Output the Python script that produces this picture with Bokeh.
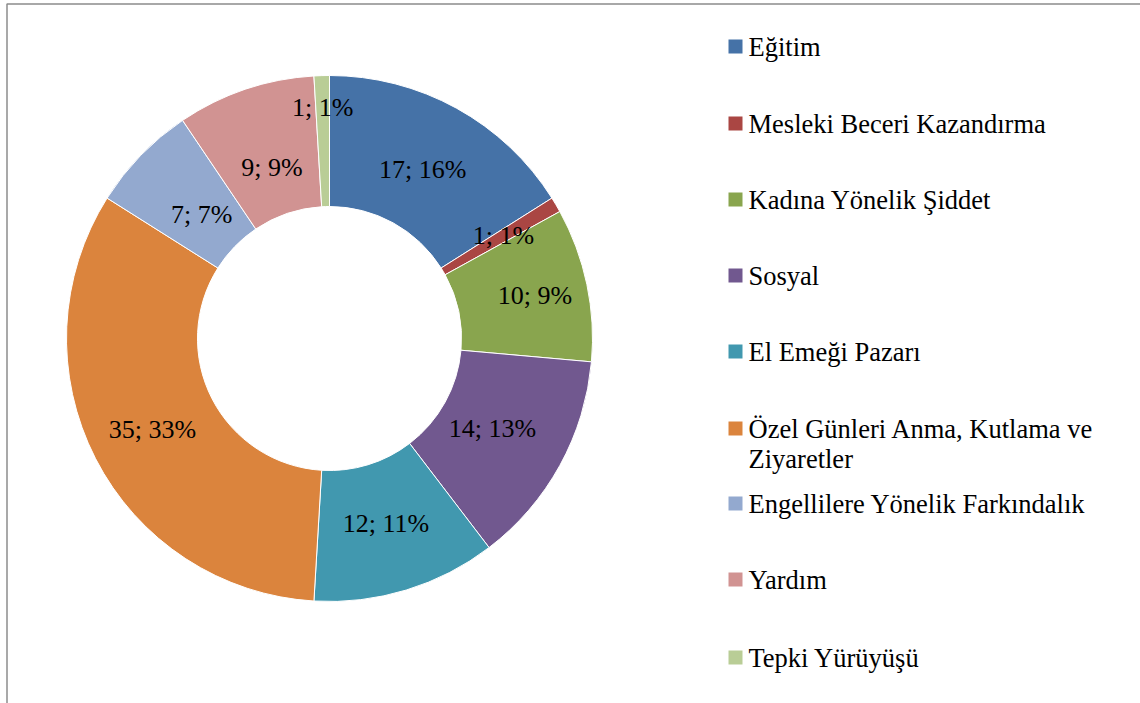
import math
from bokeh.plotting import figure
from bokeh.models import Range1d, ColumnDataSource
from bokeh.core.properties import value
from bokeh.embed import file_html
from bokeh.resources import INLINE

# ---- data ----
categories = ["Eğitim", "Mesleki Beceri Kazandırma", "Kadına Yönelik Şiddet", "Sosyal",
              "El Emeği Pazarı", "Özel Günleri Anma, Kutlama ve Ziyaretler",
              "Engellilere Yönelik Farkındalık", "Yardım", "Tepki Yürüyüşü"]
counts = [17, 1, 10, 14, 12, 35, 7, 9, 1]
percent_labels = ["16%", "1%", "9%", "13%", "11%", "33%", "7%", "9%", "1%"]
colors = ["#4572A7", "#AA4643", "#89A54E", "#71588F", "#4198AF",
          "#DB843D", "#93A9CF", "#D19392", "#B9CD96"]

# ---- layout (screen px, y measured from top) ----
W, H = 1140, 703
CX, CY = 329, 338
R_OUT, R_IN = 263, 132
label_r = [193, 202, 210, 186, 193, 199, 178, 180, 231]
FONT = "Liberation Serif"

def Y(y):
    return H - y

total = sum(counts)
starts, ends, mids = [], [], []
cum = 0
for c in counts:
    a0 = math.pi / 2 - 2 * math.pi * cum / total
    cum += c
    a1 = math.pi / 2 - 2 * math.pi * cum / total
    starts.append(a0)
    ends.append(a1)
    mids.append((a0 + a1) / 2)

p = figure(width=W, height=H, output_backend="svg", toolbar_location=None,
           x_range=Range1d(0, W), y_range=Range1d(0, H), min_border=0)
p.xaxis.visible = False
p.yaxis.visible = False
p.xgrid.visible = False
p.ygrid.visible = False
p.outline_line_color = None

# outer frame
p.line(x=[6.5, 6.5, 1139.5], y=[-5, Y(3.5), Y(3.5)], line_color="#8c8c8c", line_width=1.5)

src = ColumnDataSource(dict(start=starts, end=ends, color=colors))
p.annular_wedge(x=CX, y=Y(CY), inner_radius=R_IN, outer_radius=R_OUT,
                start_angle="start", end_angle="end", direction="clock",
                fill_color="color", line_color="white", line_width=1, source=src)

lx = [CX + r * math.cos(m) for r, m in zip(label_r, mids)]
ly = [Y(CY) + r * math.sin(m) for r, m in zip(label_r, mids)]
ltxt = [f"{c}; {pc}" for c, pc in zip(counts, percent_labels)]
p.text(x=lx, y=ly, text=ltxt, text_align="center", text_baseline="middle",
       text_font=value(FONT), text_font_size="26px", text_color="black")

# legend (long label wrapped onto a second line)
row_y = [46, 123, 199, 275, 351, 428, 503, 579, 657]
wrap_at = " Ziyaretler"
leg_x, leg_y, leg_t = [], [], []
for name, ry in zip(categories, row_y):
    if name.endswith(wrap_at):
        leg_t += [name[: -len(wrap_at)], wrap_at.strip()]
        leg_y += [Y(ry), Y(ry + 30)]
        leg_x += [748, 748]
    else:
        leg_t.append(name)
        leg_y.append(Y(ry))
        leg_x.append(748)
p.rect(x=[735] * len(categories), y=[Y(v) for v in row_y], width=14, height=14,
       fill_color=colors, line_color=None)
p.text(x=leg_x, y=leg_y, text=leg_t, text_align="left", text_baseline="middle",
       text_font=value(FONT), text_font_size="26.5px", text_color="black")

open("out.html", "w").write(file_html(p, INLINE))
